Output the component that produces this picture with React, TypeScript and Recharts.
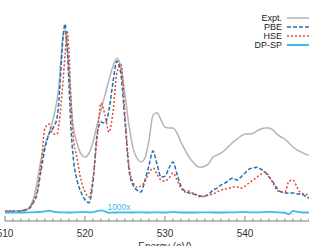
import React from 'react';
import { LineChart, Line, XAxis, YAxis, Legend, ReferenceDot } from 'recharts';

// photon energy (eV); denser sampling around the main peak
const energy = [
  510, 510.5, 511, 511.5, 512, 512.5, 513, 513.5, 514, 514.5, 515, 515.5, 516, 516.5,
  516.75, 517, 517.25, 517.5, 517.75, 518, 518.25, 518.5,
  519, 519.5, 520, 520.5, 521, 521.5, 522, 522.5, 523, 523.5, 524, 524.5, 525, 525.5,
  526, 526.5, 527, 527.5, 528, 528.5, 529, 529.5, 530, 530.5, 531, 531.5, 532, 532.5,
  533, 533.5, 534, 534.5, 535, 535.5, 536, 536.5, 537, 537.5, 538, 538.5, 539, 539.5,
  540, 540.5, 541, 541.5, 542, 542.5, 543, 543.5, 544, 544.5, 545, 545.5, 546, 546.5,
  547, 547.5, 548, 548.5, 549, 549.5, 550,
];

const expt = [
  0.05, 0.05, 0.05, 0.05, 0.05, 0.07, 0.18, 0.54, 1.3, 2.33, 3.0, 3.53, 4.12, 5.01,
  5.68, 6.89, 7.88, 8.15, 7.48, 6.45, 5.01, 3.89,
  3.09, 2.6, 2.46, 2.64, 3.13, 3.89, 4.57, 5.24, 5.91, 6.53, 6.89, 6.45, 5.24, 3.89,
  2.86, 2.42, 2.24, 2.42, 3.22, 4.34, 4.45, 4.12, 3.8, 3.76, 3.76, 3.53, 3.13, 2.78,
  2.46, 2.24, 2.06, 2.01, 2.06, 2.19, 2.46, 2.55, 2.64, 2.78, 2.95, 3.13, 3.27, 3.4,
  3.49, 3.49, 3.53, 3.63, 3.72, 3.76, 3.76, 3.67, 3.49, 3.36, 3.27, 3.09, 2.91, 2.78,
  2.69, 2.6, 2.55, 2.51, 2.46, 2.42, 2.42,
];

const pbe = [
  0.02, 0.02, 0.02, 0.02, 0.045, 0.09, 0.15, 0.4, 0.8, 1.85, 2.86, 3.49, 3.76, 4.21,
  5.01, 6.45, 7.79, 8.42, 7.48, 5.68, 3.76, 2.55,
  1.43, 0.9, 0.55, 0.42, 1.34, 3.45, 4.03, 3.98, 4.57, 5.82, 6.76, 6.13, 4.03, 1.88,
  1.21, 0.98, 0.9, 1.43, 2.1, 2.73, 2.15, 1.57, 1.61, 1.97, 2.24, 1.7, 1.16, 0.94,
  0.85, 0.81, 0.76, 0.72, 0.72, 0.81, 0.98, 1.07, 1.21, 1.3, 1.43, 1.52, 1.43, 1.57,
  1.75, 1.92, 1.97, 2.01, 1.92, 1.79, 1.57, 1.34, 1.07, 0.9, 0.85, 0.85, 0.85, 0.81,
  0.81, 0.72, 0.63, 0.54, 0.49, 0.45, 0.45,
];

const hse = [
  0.045, 0.045, 0.045, 0.045, 0.07, 0.11, 0.18, 0.45, 0.95, 2.1, 3.76, 3.94, 3.49, 3.49,
  3.94, 4.79, 5.82, 7.03, 8.1, 7.16, 5.01, 3.45,
  2.42, 1.43, 0.9, 0.67, 1.52, 3.22, 4.88, 4.34, 3.58, 4.48, 6.27, 6.62, 4.34, 2.1,
  1.34, 1.12, 1.16, 1.39, 1.75, 1.97, 1.7, 1.43, 1.39, 1.52, 1.75, 1.43, 1.07, 0.9,
  0.94, 0.85, 0.76, 0.67, 0.72, 0.76, 0.81, 0.9, 0.98, 1.03, 1.07, 1.12, 1.12, 1.07,
  1.16, 1.3, 1.43, 1.57, 1.7, 1.79, 1.61, 1.3, 0.98, 0.9, 0.9, 1.39, 1.43, 1.12,
  0.85, 0.81, 0.76, 0.72, 0.67, 0.63, 0.63,
];

// DP-SP, scaled by 1000
const dpsp = [
  -0.02, -0.02, -0.02, -0.02, -0.02, -0.02, -0.01, -0.01, 0.0, 0.01, 0.03, 0.06, 0.02, 0.0,
  -0.01, -0.01, -0.01, -0.01, -0.02, -0.02, -0.02, -0.01,
  -0.01, 0.0, 0.0, -0.01, 0.0, 0.04, 0.08, 0.03, -0.03, -0.02, -0.02, -0.01, -0.01, -0.02,
  -0.02, -0.01, -0.01, -0.02, -0.02, -0.01, -0.01, -0.02, -0.02, -0.01, 0.0, -0.01, -0.02, -0.02,
  -0.02, -0.02, -0.02, -0.01, -0.01, -0.01, -0.02, -0.02, -0.02, -0.02, -0.01, -0.01, -0.01, 0.0,
  0.0, -0.01, -0.01, -0.01, -0.01, 0.0, 0.01, 0.0, -0.01, -0.02, -0.03, -0.1, 0.05, 0.02,
  -0.01, -0.02, -0.02, -0.02, -0.02, -0.02, -0.02,
];

const seriesNames = ['Expt.', 'PBE', 'HSE', 'DP-SP'];
const majorTicks = [510, 520, 530, 540, 550];
const tickLabels = [510, 520, 530, 540];
const minorTicks = [
  510, 511, 512, 513, 514, 515, 516, 517, 518, 519, 520, 521, 522, 523, 524, 525, 526, 527,
  528, 529, 530, 531, 532, 533, 534, 535, 536, 537, 538, 539, 540, 541, 542, 543, 544, 545,
  546, 547, 548, 549, 550,
];
const yTicks = [0, 1, 2, 3, 4, 5, 6, 7, 8];
const scaleNote = { text: '1000x', energy: 524.25, value: 0 };

const data = energy.map((e, i) => ({
  e,
  expt: expt[i],
  pbe: pbe[i],
  hse: hse[i],
  dpsp: dpsp[i],
}));

const SERIES = [
  { key: 'expt', name: seriesNames[0], color: '#b5b5b5', dash: undefined, width: 1.5 },
  { key: 'pbe', name: seriesNames[1], color: '#1f6fb2', dash: '4 2', width: 1.5 },
  { key: 'hse', name: seriesNames[2], color: '#e2492c', dash: '2 2', width: 1.5 },
  { key: 'dpsp', name: seriesNames[3], color: '#3dbbec', dash: undefined, width: 1.8 },
];

const AXIS = '#808080';
const FONT = '"Liberation Sans", Arial, sans-serif';

const BottomTick = (props: any) => {
  const { x, y, payload } = props;
  const major = majorTicks.includes(payload.value);
  return (
    <g>
      <line x1={x} x2={x} y1={y} y2={y - (major ? 5 : 2.5)} stroke={AXIS} />
      {tickLabels.includes(payload.value) && (
        <text x={x} y={y + 15.5} textAnchor="middle" fontSize={10} fill="#333">
          {payload.value}
        </text>
      )}
    </g>
  );
};

const TopTick = (props: any) => {
  const { x, y, payload } = props;
  const major = majorTicks.includes(payload.value);
  return <line x1={x} x2={x} y1={y} y2={y + (major ? 5 : 2.5)} stroke={AXIS} />;
};

const LeftTick = (props: any) => {
  const { x, y } = props;
  return <line x1={x} x2={x + 4} y1={y} y2={y} stroke={AXIS} />;
};

const LegendBox = () => (
  <svg width={100} height={42} style={{ display: 'block', overflow: 'visible' }}>
    {SERIES.map((s, i) => {
      const cy = 5 + i * 9;
      return (
        <g key={s.key}>
          <text x={54} y={cy + 3.2} textAnchor="end" fontSize={9} fill="#222" fontFamily={FONT}>
            {s.name}
          </text>
          <line x1={59} x2={92} y1={cy} y2={cy} stroke={s.color} strokeWidth={s.width} strokeDasharray={s.dash} />
        </g>
      );
    })}
  </svg>
);

export default function App() {
  return (
    <div style={{ position: 'absolute', left: 0, top: 0, fontFamily: FONT }}>
      <LineChart width={330} height={262} data={data} margin={{ top: 11, right: 5, bottom: 5, left: 5 }}>
        <XAxis
          xAxisId="bottom"
          dataKey="e"
          type="number"
          domain={[510, 550]}
          allowDataOverflow
          ticks={minorTicks}
          interval={0}
          height={36}
          tickSize={0}
          tickMargin={0}
          tickLine={false}
          tick={<BottomTick />}
          axisLine={{ stroke: AXIS }}
          label={{ value: 'Energy (eV)', position: 'insideBottom', offset: 7, fontSize: 10, fill: '#333' }}
        />
        <XAxis
          xAxisId="top"
          orientation="top"
          dataKey="e"
          type="number"
          domain={[510, 550]}
          allowDataOverflow
          ticks={minorTicks}
          interval={0}
          height={0}
          tickSize={0}
          tickMargin={0}
          tickLine={false}
          tick={<TopTick />}
          axisLine={{ stroke: AXIS }}
        />
        <YAxis
          yAxisId="left"
          type="number"
          domain={[-0.4, 9]}
          allowDataOverflow
          ticks={yTicks}
          interval={0}
          width={0}
          tickSize={0}
          tickMargin={0}
          tickLine={false}
          tick={<LeftTick />}
          axisLine={{ stroke: AXIS }}
        />
        <Legend
          layout="vertical"
          align="center"
          verticalAlign="middle"
          wrapperStyle={{ top: 13, left: 228, width: 100, height: 42 }}
          content={() => <LegendBox />}
        />
        {SERIES.map((s) => (
          <Line
            key={s.key}
            xAxisId="bottom"
            yAxisId="left"
            dataKey={s.key}
            name={s.name}
            type="monotone"
            stroke={s.color}
            strokeWidth={s.width}
            strokeDasharray={s.dash}
            dot={false}
            activeDot={false}
            isAnimationActive={false}
          />
        ))}
        <ReferenceDot
          xAxisId="bottom"
          yAxisId="left"
          x={scaleNote.energy}
          y={scaleNote.value}
          r={1}
          fill="none"
          stroke="none"
          label={{ value: scaleNote.text, position: 'top', offset: 1, fontSize: 8.5, fill: '#3dbbec' }}
        />
      </LineChart>
    </div>
  );
}
